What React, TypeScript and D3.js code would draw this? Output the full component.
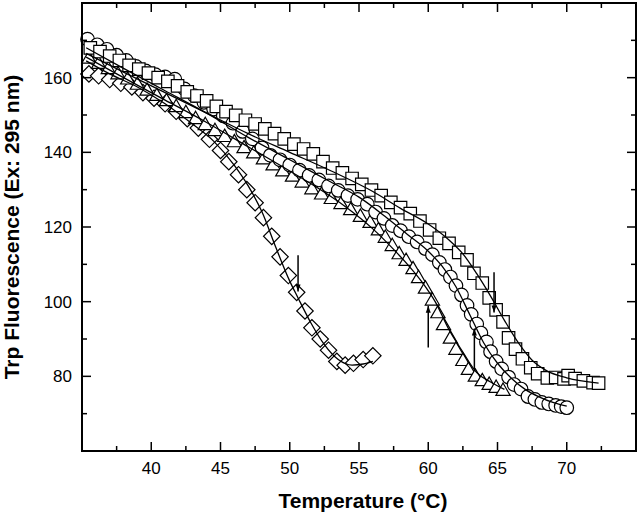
import React from "react";
import * as d3 from "d3";

// tick labels
const xTicks = [40, 45, 50, 55, 60, 65, 70];
const yTicks = [80, 100, 120, 140, 160];

// squares
const squareTemp = [35.6, 36.3, 37.0, 37.7, 38.4, 39.1, 39.8, 40.5, 41.2, 41.9, 42.6, 43.3, 44.0, 44.7, 45.4, 46.1, 46.8, 47.5, 48.2, 48.9, 49.6, 50.3, 51.0, 51.7, 52.4, 53.1, 53.8, 54.5, 55.2, 55.9, 56.6, 57.3, 58.0, 58.7, 59.4, 60.1, 60.8, 61.5, 62.2, 62.8, 63.3, 63.9, 64.4, 64.9, 65.4, 65.8, 66.3, 66.8, 67.4, 67.9, 68.6, 69.2, 69.8, 70.1, 70.6, 71.2, 71.9, 72.3];
const squareVal = [168.0, 167.0, 165.8, 164.6, 163.3, 162.3, 161.2, 160.0, 159.0, 157.8, 156.2, 155.1, 153.8, 152.3, 150.9, 149.9, 148.6, 147.6, 146.3, 145.0, 143.6, 142.2, 140.9, 139.6, 137.5, 135.8, 134.5, 133.0, 131.4, 129.9, 128.4, 126.6, 125.2, 123.6, 121.6, 119.2, 117.0, 115.6, 113.2, 111.2, 107.6, 105.0, 101.0, 97.8, 94.6, 90.3, 87.3, 84.7, 82.3, 80.7, 79.6, 79.7, 79.3, 80.2, 79.4, 78.8, 78.3, 78.2];

// circles
const circleTemp = [35.4, 36.1, 36.8, 37.5, 38.2, 38.9, 39.6, 40.3, 41.0, 41.7, 42.4, 43.1, 43.8, 44.5, 45.2, 45.9, 46.6, 47.3, 48.0, 48.6, 49.3, 50.0, 50.7, 51.4, 52.1, 52.8, 53.5, 54.2, 54.9, 55.6, 56.2, 56.8, 57.4, 58.0, 58.6, 59.2, 59.8, 60.3, 60.8, 61.2, 61.6, 62.0, 62.4, 62.8, 63.1, 63.5, 63.8, 64.2, 64.5, 64.9, 65.3, 65.8, 66.2, 66.7, 67.2, 67.7, 68.2, 68.7, 69.2, 69.6, 70.0];
const circleVal = [170.3, 168.8, 167.6, 166.0, 164.6, 163.0, 161.8, 160.8, 160.2, 159.6, 157.0, 155.2, 153.4, 151.6, 149.8, 147.8, 145.6, 143.6, 141.2, 139.2, 138.0, 136.6, 135.2, 133.8, 132.6, 131.0, 129.8, 128.4, 127.4, 126.1, 124.0, 122.3, 120.4, 119.0, 117.4, 116.0, 114.2, 112.6, 110.5, 108.6, 106.6, 104.3, 101.8, 99.0, 96.6, 94.0, 91.6, 89.2, 86.6, 84.0, 82.0, 79.8, 77.8, 76.6, 74.6, 73.8, 73.0, 72.6, 72.2, 71.9, 71.6];

// triangles
const triangleTemp = [35.5, 36.2, 36.9, 37.6, 38.3, 39.0, 39.7, 40.4, 41.1, 41.8, 42.5, 43.2, 43.9, 44.6, 45.3, 46.0, 46.7, 47.4, 48.1, 48.8, 49.5, 50.2, 50.9, 51.6, 52.3, 53.0, 53.7, 54.4, 55.1, 55.8, 56.4, 56.9, 57.4, 57.9, 58.4, 58.9, 59.3, 59.8, 60.3, 60.7, 61.1, 61.6, 62.0, 62.5, 62.9, 63.4, 63.9, 64.4, 64.9, 65.4];
const triangleVal = [165.0, 163.6, 162.2, 160.8, 159.4, 158.0, 156.4, 155.0, 153.6, 152.0, 150.4, 148.8, 147.2, 145.6, 144.0, 142.6, 141.0, 139.6, 138.0, 136.4, 134.8, 133.4, 131.8, 130.0, 128.6, 127.4, 126.0, 124.4, 122.6, 121.0, 119.0, 117.0, 114.8, 112.6, 110.8, 108.6, 106.2, 103.4, 100.2, 96.8, 93.6, 90.0, 87.0, 84.0, 81.6, 79.8, 78.6, 77.6, 76.8, 76.0];

// diamonds
const diamondTemp = [35.5, 36.2, 37.0, 37.8, 38.6, 39.4, 40.2, 41.0, 41.8, 42.6, 43.4, 44.2, 45.0, 45.6, 46.3, 46.9, 47.5, 48.1, 48.7, 49.3, 49.9, 50.5, 51.1, 51.6, 52.2, 52.8, 53.4, 54.0, 54.6, 55.3, 56.0];
const diamondVal = [161.0, 160.5, 159.5, 158.5, 157.5, 156.0, 154.5, 153.0, 151.0, 149.0, 146.5, 143.5, 140.5, 137.5, 134.0, 130.0, 126.5, 122.5, 117.5, 112.0, 107.0, 102.5, 97.5, 93.0, 90.0, 87.0, 84.0, 83.0, 83.5, 84.5, 85.5];

// fitted curves
const fitSquareTemp = [35.3, 38, 41, 44, 47, 50, 53, 56, 58, 60, 61.5, 62.5, 63.5, 64.5, 65.5, 66.5, 67.5, 68.5, 70, 72.3];
const fitSquareVal = [166.5, 161.5, 156, 150.5, 145, 140, 135, 129.5, 125, 120.8, 116.5, 112.8, 107.5, 101.5, 95, 89, 84.3, 81.6, 79.6, 78.2];
const fitCircleTemp = [35.3, 38, 41, 44, 47, 50, 53, 55, 57, 58.5, 60, 61, 62, 63, 64, 65, 66, 67, 68, 69, 70];
const fitCircleVal = [168, 162.5, 156.5, 150.5, 144, 138, 132, 128, 122.5, 118, 113.5, 109.5, 104, 96.5, 89, 83.5, 79.5, 76.5, 74.5, 73, 72];
const fitTriangleTemp = [35.3, 38, 41, 44, 47, 50, 52, 54, 56, 57.5, 58.5, 59.5, 60.5, 61.5, 62.5, 63.5, 64.5, 65.5];
const fitTriangleVal = [165.5, 160, 154, 148, 141.5, 135, 130.5, 125.5, 119.5, 114, 110, 105.5, 100, 92.5, 86.5, 81, 78.5, 76.5];
const fitDiamondTemp = [35.3, 37, 39, 41, 43, 44.5, 46, 47, 48, 49, 50, 50.6, 51.5, 52.5, 53.5, 54.5, 55.3, 56];
const fitDiamondVal = [164.5, 161, 157.5, 153, 147.5, 143, 136.5, 131, 124, 114.5, 105.5, 101, 94.5, 88.5, 84.5, 83, 83.3, 84];

// arrows marking transition midpoints
const arrowTemp = [64.75, 63.33, 60.0, 50.6];
const arrowTop = [107.9, 92.8, 98.9, 112.4];
const arrowBottom = [97.1, 81.8, 87.7, 102.7];
const arrowUp = [false, true, true, false];

const W = 640;
const H = 514;

export default function App() {
  const x = d3.scaleLinear().domain([35, 75]).range([82, 636]);
  const y = d3.scaleLinear().domain([60, 180]).range([451, 3]);

  const xMinor = d3.range(37.5, 75, 5);
  const yMinor = d3.range(70, 180, 20);

  const makePath = (ts: number[], vs: number[]) =>
    d3
      .line<number>()
      .x((d, i) => x(ts[i]))
      .y((d) => y(d))
      .curve(d3.curveMonotoneX)(vs) as string;

  const sq = d3.symbol().type(d3.symbolSquare).size(155)() as string;
  const ci = d3.symbol().type(d3.symbolCircle).size(145)() as string;
  const tri = d3.symbol().type(d3.symbolTriangle).size(88)() as string;
  const dia = d3.symbol().type(d3.symbolSquare).size(135)() as string;

  const mk = { fill: "#fff", stroke: "#000", strokeWidth: 1.2 };
  const font = "'Liberation Sans', Arial, Helvetica, sans-serif";

  const [x0, x1] = x.range();
  const [y0, y1] = y.range();

  return (
    <svg
      width={W}
      height={H}
      style={{ position: "absolute", left: 0, top: 0, background: "#fff" }}
      fontFamily={font}
    >
      <rect x={0} y={0} width={W} height={H} fill="#fff" />

      {/* markers */}
      <g {...mk}>
        {diamondTemp.map((t, i) => (
          <path key={"d" + i} d={dia} transform={`translate(${x(t)},${y(diamondVal[i])}) rotate(45)`} />
        ))}
        {triangleTemp.map((t, i) => (
          <path key={"t" + i} d={tri} transform={`translate(${x(t)},${y(triangleVal[i])})`} />
        ))}
        {circleTemp.map((t, i) => (
          <path key={"c" + i} d={ci} transform={`translate(${x(t)},${y(circleVal[i])})`} />
        ))}
        {squareTemp.map((t, i) => (
          <path key={"s" + i} d={sq} transform={`translate(${x(t)},${y(squareVal[i])})`} />
        ))}
      </g>

      {/* fits */}
      <g fill="none" stroke="#000" strokeWidth={1.3}>
        <path d={makePath(fitDiamondTemp, fitDiamondVal)} />
        <path d={makePath(fitTriangleTemp, fitTriangleVal)} />
        <path d={makePath(fitCircleTemp, fitCircleVal)} />
        <path d={makePath(fitSquareTemp, fitSquareVal)} />
      </g>

      {/* arrows */}
      {arrowTemp.map((t, i) => {
        const ax = x(t);
        const top = y(arrowTop[i]);
        const bot = y(arrowBottom[i]);
        const head = arrowUp[i]
          ? `M${ax},${top} L${ax - 2.5},${top + 7} L${ax + 2.5},${top + 7} Z`
          : `M${ax},${bot} L${ax - 2.5},${bot - 7} L${ax + 2.5},${bot - 7} Z`;
        return (
          <g key={"a" + i}>
            <line x1={ax} x2={ax} y1={top} y2={bot} stroke="#000" strokeWidth={1.5} />
            <path d={head} fill="#000" />
          </g>
        );
      })}

      {/* frame */}
      <rect x={x0} y={y1} width={x1 - x0} height={y0 - y1} fill="none" stroke="#000" strokeWidth={2} />

      {/* ticks */}
      <g stroke="#000" strokeWidth={1.5}>
        {xTicks.map((t) => (
          <g key={"xm" + t}>
            <line x1={x(t)} x2={x(t)} y1={y0} y2={y0 - 9} />
            <line x1={x(t)} x2={x(t)} y1={y1} y2={y1 + 9} />
          </g>
        ))}
        {xMinor.map((t) => (
          <g key={"xn" + t}>
            <line x1={x(t)} x2={x(t)} y1={y0} y2={y0 - 5} />
            <line x1={x(t)} x2={x(t)} y1={y1} y2={y1 + 5} />
          </g>
        ))}
        {yTicks.map((v) => (
          <g key={"ym" + v}>
            <line x1={x0} x2={x0 + 9} y1={y(v)} y2={y(v)} />
            <line x1={x1} x2={x1 - 9} y1={y(v)} y2={y(v)} />
          </g>
        ))}
        {yMinor.map((v) => (
          <g key={"yn" + v}>
            <line x1={x0} x2={x0 + 5} y1={y(v)} y2={y(v)} />
            <line x1={x1} x2={x1 - 5} y1={y(v)} y2={y(v)} />
          </g>
        ))}
      </g>

      {/* tick labels */}
      <g fontSize={17} fill="#000">
        {xTicks.map((t) => (
          <text key={"xl" + t} x={x(t)} y={474} textAnchor="middle">
            {t}
          </text>
        ))}
        {yTicks.map((v) => (
          <text key={"yl" + v} x={x0 - 10} y={y(v)} dy="0.35em" textAnchor="end">
            {v}
          </text>
        ))}
      </g>

      {/* axis titles */}
      <text x={(x0 + x1) / 2 + 4} y={508} textAnchor="middle" fontSize={21} fontWeight="bold">
        Temperature (°C)
      </text>
      <text
        transform={`translate(19,${(y0 + y1) / 2}) rotate(-90)`}
        textAnchor="middle"
        fontSize={21}
        fontWeight="bold"
      >
        Trp Fluorescence (Ex: 295 nm)
      </text>
    </svg>
  );
}
